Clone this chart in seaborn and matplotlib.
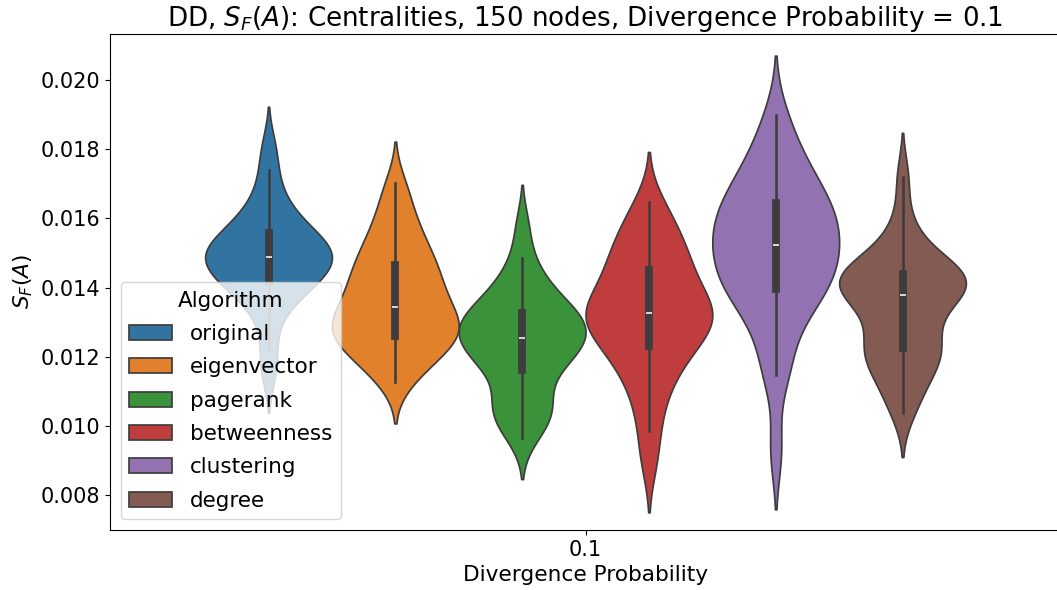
import numpy as np
import pandas as pd
import matplotlib
matplotlib.use("Agg")
import matplotlib.pyplot as plt
import seaborn as sns

# Per-run S_F(A) scores for each centrality algorithm (divergence probability 0.1, 150 nodes)
algorithms = ["original", "eigenvector", "pagerank", "betweenness", "clustering", "degree"]
divergence_prob = "0.1"

original = [0.01150, 0.01219, 0.01300, 0.01345, 0.01375, 0.01395, 0.01405, 0.01412, 0.01425, 0.01440,
            0.01452, 0.01462, 0.01470, 0.01477, 0.01484, 0.01492, 0.01500, 0.01508, 0.01516, 0.01525,
            0.01535, 0.01548, 0.01560, 0.01575, 0.01592, 0.01612, 0.01640, 0.01680, 0.01740, 0.01810]
eigenvector = [0.01127, 0.01160, 0.01185, 0.01205, 0.01220, 0.01235, 0.01248, 0.01258, 0.01268, 0.01278,
               0.01288, 0.01298, 0.01310, 0.01322, 0.01336, 0.01352, 0.01368, 0.01385, 0.01400, 0.01418,
               0.01436, 0.01452, 0.01470, 0.01490, 0.01512, 0.01536, 0.01565, 0.01600, 0.01645, 0.01702]
pagerank = [0.00965, 0.01000, 0.01028, 0.01042, 0.01056, 0.01080, 0.01115, 0.01158, 0.01172, 0.01188,
            0.01202, 0.01214, 0.01226, 0.01237, 0.01247, 0.01260, 0.01270, 0.01280, 0.01290, 0.01300,
            0.01310, 0.01318, 0.01330, 0.01345, 0.01362, 0.01382, 0.01405, 0.01438, 0.01485, 0.01578]
betweenness = [0.00895, 0.00985, 0.01060, 0.01110, 0.01150, 0.01180, 0.01205, 0.01225, 0.01245, 0.01262,
               0.01278, 0.01292, 0.01305, 0.01315, 0.01322, 0.01330, 0.01340, 0.01355, 0.01372, 0.01390,
               0.01410, 0.01432, 0.01455, 0.01475, 0.01495, 0.01515, 0.01540, 0.01570, 0.01605, 0.01647]
clustering = [0.00930, 0.01147, 0.01180, 0.01270, 0.01320, 0.01350, 0.01372, 0.01392, 0.01410, 0.01428,
              0.01445, 0.01462, 0.01478, 0.01494, 0.01510, 0.01535, 0.01550, 0.01565, 0.01580, 0.01595,
              0.01612, 0.01630, 0.01650, 0.01668, 0.01690, 0.01715, 0.01745, 0.01780, 0.01830, 0.01899]
degree = [0.01037, 0.01080, 0.01120, 0.01150, 0.01175, 0.01195, 0.01208, 0.01220, 0.01235, 0.01255,
          0.01280, 0.01310, 0.01340, 0.01360, 0.01372, 0.01384, 0.01394, 0.01402, 0.01410, 0.01417,
          0.01424, 0.01432, 0.01440, 0.01450, 0.01462, 0.01478, 0.01500, 0.01535, 0.01600, 0.01720]

scores = [original, eigenvector, pagerank, betweenness, clustering, degree]

df = pd.concat(
    [pd.DataFrame({"Divergence Probability": divergence_prob, "S_F(A)": vals, "Algorithm": name})
     for name, vals in zip(algorithms, scores)],
    ignore_index=True,
)

fig = plt.figure(figsize=(10.57, 5.90), dpi=100)
ax = fig.add_axes([0.1041, 0.1017, 0.8997, 0.8407])

sns.violinplot(data=df, x="Divergence Probability", y="S_F(A)", hue="Algorithm",
               hue_order=algorithms, density_norm="width", bw_adjust=0.8, ax=ax)

ax.set_ylim(0.00699, 0.02133)
ax.set_title(r"DD, $S_F(A)$: Centralities, 150 nodes, Divergence Probability = 0.1", fontsize=18.8)
ax.set_xlabel("Divergence Probability", fontsize=15.6)
ax.set_ylabel(r"$S_F(A)$", fontsize=15.6)
ax.tick_params(axis="both", labelsize=15)

sns.move_legend(ax, "lower left", title="Algorithm", fontsize=15.5, title_fontsize=15.5,
                labelspacing=0.62)

fig.savefig("out.png", dpi=100)
